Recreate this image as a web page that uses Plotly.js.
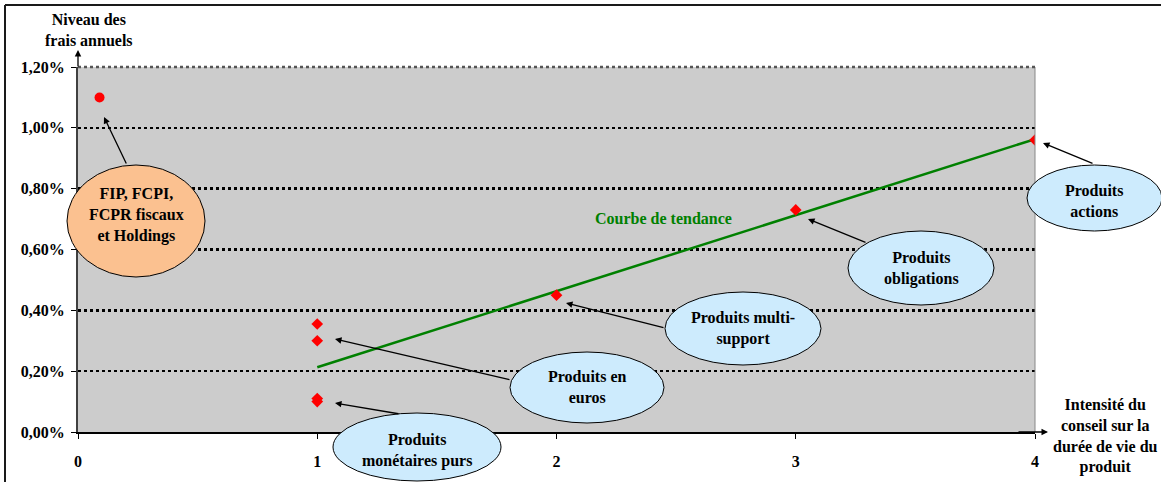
<!DOCTYPE html>
<html>
<head>
<meta charset="utf-8">
<script src="https://cdn.plot.ly/plotly-3.0.1.min.js"></script>
<style>html,body{margin:0;padding:0;background:#fff;}#chart{width:1161px;height:482px;}</style>
</head>
<body>
<div id="chart"></div>
<script>
// Data
var fipX = [0.09];
var fipY = [0.0110];
var prodX = [1, 1, 1, 1, 2, 3, 4];
var prodY = [0.00355, 0.0030, 0.0011, 0.0010, 0.0045, 0.0073, 0.0096];
var trendX = [1, 4];
var trendY = [0.00213, 0.00963];
var xTicks = [0, 1, 2, 3, 4];
var yTicks = [0, 0.002, 0.004, 0.006, 0.008, 0.010, 0.012];

var FONT = 'Liberation Serif, Times New Roman, serif';
var FS = 16;
var W = 1161, H = 482, L = 78, R = 126, T = 67, B = 50;
var PW = W - L - R, PH = H - T - B;
function px(x) { return (x - L) / PW; }
function py(y) { return (H - B - y) / PH; }

var traces = [
  {x: trendX, y: trendY, type: 'scatter', mode: 'lines',
   line: {color: '#008000', width: 2.5}, hoverinfo: 'skip'},
  {x: prodX, y: prodY, type: 'scatter', mode: 'markers',
   marker: {symbol: 'diamond', size: 9, color: '#ff0000'}},
  {x: fipX, y: fipY, type: 'scatter', mode: 'markers',
   marker: {symbol: 'circle', size: 10, color: '#ff0000'}}
];

function ell(x0, x1, y0, y1, fill) {
  return {type: 'circle', xref: 'paper', yref: 'paper', layer: 'above',
    x0: px(x0), x1: px(x1), y0: py(y1), y1: py(y0),
    fillcolor: fill, line: {color: '#000', width: 1}};
}
function lbl(x, y, text, color) {
  return {xref: 'paper', yref: 'paper', x: px(x), y: py(y), text: text,
    showarrow: false, xanchor: 'center', yanchor: 'middle', align: 'center',
    font: {family: FONT, size: FS, color: color || '#000', weight: 'bold'}};
}
function arr(tx, ty, sx, sy) {
  return {xref: 'paper', yref: 'paper', x: px(tx), y: py(ty), text: '',
    showarrow: true, arrowhead: 2, arrowsize: 1, arrowwidth: 1.3, arrowcolor: '#000',
    ax: sx - tx, ay: sy - ty, standoff: 0, startstandoff: 0};
}

var shapes = [
  {type: 'line', xref: 'paper', yref: 'paper', x0: px(5), x1: px(1161), y0: py(5), y1: py(5), line: {color: '#1a1a1a', width: 2}},
  {type: 'line', xref: 'paper', yref: 'paper', x0: px(5), x1: px(5), y0: py(5), y1: py(482), line: {color: '#1a1a1a', width: 2}},
  {type: 'line', xref: 'paper', yref: 'paper', x0: 1, x1: 1, y0: 0, y1: 1, line: {color: '#888', width: 1}},
  {type: 'line', xref: 'paper', yref: 'paper', x0: 0, x1: 1, y0: 1, y1: 1, line: {color: '#555', width: 2.5, dash: 'dot'}},
  ell(67, 205, 165, 277, '#fbc190'),
  ell(333, 501, 413, 481, '#cdebfd'),
  ell(510, 664, 352, 423, '#cdebfd'),
  ell(665, 821, 292, 365, '#cdebfd'),
  ell(848, 994, 231, 305, '#cdebfd'),
  ell(1027, 1162, 165, 231, '#cdebfd')
];

var annotations = [
  arr(78, 50, 78, 68),
  arr(1048, 432, 1017, 432),
  arr(104, 117, 127, 165),
  arr(335, 339, 511, 380),
  arr(335, 403, 400, 414),
  arr(566, 303, 665, 328),
  arr(808, 219, 867, 243),
  arr(1043, 143, 1094, 164),
  lbl(136, 215, 'FIP, FCPI,<br>FCPR fiscaux<br>et Holdings'),
  lbl(417, 450, 'Produits<br>monétaires purs'),
  lbl(587, 387, 'Produits en<br>euros'),
  lbl(743, 328, 'Produits multi-<br>support'),
  lbl(921, 268, 'Produits<br>obligations'),
  lbl(1094, 201, 'Produits<br>actions'),
  lbl(663, 219, 'Courbe de tendance', '#008000'),
  lbl(89, 30, 'Niveau des<br>frais annuels'),
  lbl(1105, 436, 'Intensité du<br>conseil sur la<br>durée de vie du<br>produit')
];

var layout = {
  width: W, height: H,
  margin: {l: L, r: R, t: T, b: B, pad: 0},
  paper_bgcolor: '#ffffff',
  plot_bgcolor: '#cccccc',
  showlegend: false,
  separators: ', ',
  font: {family: FONT, size: FS, color: '#000', weight: 'bold'},
  xaxis: {
    range: [0, 4], tickvals: xTicks, ticktext: xTicks.map(String),
    showgrid: false, zeroline: false,
    showline: true, linecolor: '#000', linewidth: 1.5,
    ticks: 'outside', ticklen: 5, tickcolor: '#000', tickwidth: 1,
    ticklabelstandoff: 9,
    tickfont: {family: FONT, size: FS, color: '#000', weight: 'bold'}
  },
  yaxis: {
    range: [0, 0.012], tickvals: yTicks, tickformat: '.2%',
    showgrid: true, gridcolor: '#000', griddash: 'dot', gridwidth: 2.5,
    zeroline: false,
    showline: true, linecolor: '#404040', linewidth: 2,
    ticks: 'outside', ticklen: 5, tickcolor: '#000', tickwidth: 1,
    ticklabelstandoff: 3,
    tickfont: {family: FONT, size: FS, color: '#000', weight: 'bold'}
  },
  shapes: shapes,
  annotations: annotations
};

Plotly.newPlot('chart', traces, layout, {displayModeBar: false, staticPlot: true});
</script>
</body>
</html>
